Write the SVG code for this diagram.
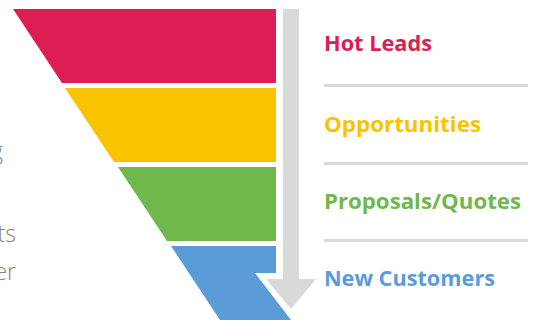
<svg xmlns="http://www.w3.org/2000/svg" width="540" height="326" viewBox="0 0 540 326">
<style>
.lbl{font-family:"Open Sans","Liberation Sans",sans-serif;font-weight:700;font-size:21px}
.side{font-family:"Open Sans","Liberation Sans",sans-serif;font-weight:300;font-size:23px;fill:#858585}
.sep{stroke:#d9d9d9;stroke-width:3}
</style>
<rect width="540" height="326" fill="#ffffff"/>
<g id="side-text">
<text class="side" x="3" y="159" text-anchor="end">g</text>
<text class="side" x="16" y="242" text-anchor="end">ts</text>
<text class="side" x="16" y="280" text-anchor="end">er</text>
</g>
<g id="stage-hot-leads">
<polygon points="13,9 276,9 276,83 62,83" fill="#dc1e55"/>
<text class="lbl" x="324" y="51" fill="#dc1e55" textLength="108" lengthAdjust="spacingAndGlyphs">Hot Leads</text>
</g>
<g id="stage-opportunities">
<polygon points="65,88 276,88 276,162 114,162" fill="#f9c300"/>
<text class="lbl" x="324" y="132" fill="#f9c300" textLength="157" lengthAdjust="spacingAndGlyphs">Opportunities</text>
</g>
<g id="stage-proposals">
<polygon points="118,167 276,167 276,241 167,241" fill="#6fb84b"/>
<text class="lbl" x="324" y="209" fill="#6fb84b" textLength="197" lengthAdjust="spacingAndGlyphs">Proposals/Quotes</text>
</g>
<g id="stage-new-customers">
<polygon points="171,246 276,246 276,273 255,273 291,320 220,320" fill="#5b9bd8"/>
<text class="lbl" x="324" y="286" fill="#5b9bd8" textLength="171" lengthAdjust="spacingAndGlyphs">New Customers</text>
</g>
<g id="connectors">
<polygon points="283,9 299,9 299,279 316,279 291,309 266,279 283,279" fill="#d9d9d9"/>
<line class="sep" x1="324" y1="85.5" x2="528" y2="85.5"/>
<line class="sep" x1="324" y1="163.5" x2="528" y2="163.5"/>
<line class="sep" x1="324" y1="240.5" x2="528" y2="240.5"/>
</g>
</svg>
